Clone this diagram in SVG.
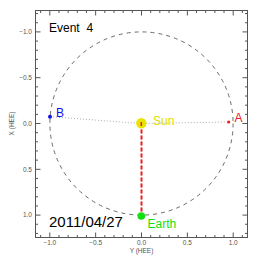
<svg xmlns="http://www.w3.org/2000/svg" width="258" height="258" viewBox="0 0 258 258">
<style>
.ax{fill:none;stroke:#555;stroke-width:1}
.tl{font-family:"Liberation Sans",Arial,sans-serif;font-size:6.5px;fill:#555}
.lab{font-family:"Liberation Sans",Arial,sans-serif;font-size:12px}
</style>
<rect width="258" height="258" fill="#fff"/>
<g id="axes">
<rect class="ax" x="35.5" y="10.5" width="212" height="227"/>
<path class="ax" d="M40.63 237.5v-2.5M58.97 237.5v-2.5M68.14 237.5v-2.5M77.31 237.5v-2.5M86.48 237.5v-2.5M104.82 237.5v-2.5M113.99 237.5v-2.5M123.16 237.5v-2.5M132.33 237.5v-2.5M150.67 237.5v-2.5M159.84 237.5v-2.5M169.01 237.5v-2.5M178.18 237.5v-2.5M196.52 237.5v-2.5M205.69 237.5v-2.5M214.86 237.5v-2.5M224.03 237.5v-2.5M242.37 237.5v-2.5
M40.63 10.5v2.5M58.97 10.5v2.5M68.14 10.5v2.5M77.31 10.5v2.5M86.48 10.5v2.5M104.82 10.5v2.5M113.99 10.5v2.5M123.16 10.5v2.5M132.33 10.5v2.5M150.67 10.5v2.5M159.84 10.5v2.5M169.01 10.5v2.5M178.18 10.5v2.5M196.52 10.5v2.5M205.69 10.5v2.5M214.86 10.5v2.5M224.03 10.5v2.5M242.37 10.5v2.5
M49.8 237.5v-5M95.65 237.5v-5M141.5 237.5v-5M187.35 237.5v-5M233.2 237.5v-5
M49.8 10.5v5M95.65 10.5v5M141.5 10.5v5M187.35 10.5v5M233.2 10.5v5
M35.5 13.58h2.5M35.5 22.74h2.5M35.5 41.06h2.5M35.5 50.22h2.5M35.5 59.38h2.5M35.5 68.54h2.5M35.5 86.86h2.5M35.5 96.02h2.5M35.5 105.18h2.5M35.5 114.34h2.5M35.5 132.66h2.5M35.5 141.82h2.5M35.5 150.98h2.5M35.5 160.14h2.5M35.5 178.46h2.5M35.5 187.62h2.5M35.5 196.78h2.5M35.5 205.94h2.5M35.5 224.26h2.5M35.5 233.42h2.5
M247.5 13.58h-2.5M247.5 22.74h-2.5M247.5 41.06h-2.5M247.5 50.22h-2.5M247.5 59.38h-2.5M247.5 68.54h-2.5M247.5 86.86h-2.5M247.5 96.02h-2.5M247.5 105.18h-2.5M247.5 114.34h-2.5M247.5 132.66h-2.5M247.5 141.82h-2.5M247.5 150.98h-2.5M247.5 160.14h-2.5M247.5 178.46h-2.5M247.5 187.62h-2.5M247.5 196.78h-2.5M247.5 205.94h-2.5M247.5 224.26h-2.5M247.5 233.42h-2.5
M35.5 31.9h5M35.5 77.7h5M35.5 123.5h5M35.5 169.3h5M35.5 215.1h5
M247.5 31.9h-5M247.5 77.7h-5M247.5 123.5h-5M247.5 169.3h-5M247.5 215.1h-5"/>
<g class="tl" text-anchor="end">
<text x="32" y="34">−1.0</text>
<text x="32" y="80">−0.5</text>
<text x="32" y="125.8">0.0</text>
<text x="32" y="171.6">0.5</text>
<text x="32" y="217.4">1.0</text>
</g>
<g class="tl" text-anchor="middle">
<text x="49.8" y="245">−1.0</text>
<text x="95.65" y="245">−0.5</text>
<text x="141.5" y="245">0.0</text>
<text x="187.35" y="245">0.5</text>
<text x="233.2" y="245">1.0</text>
<text x="141.5" y="252.5">Y (HEE)</text>
<text transform="translate(14 123.5) rotate(-90)">X (HEE)</text>
</g>
</g>
<circle cx="141.5" cy="123.5" r="91.6" fill="none" stroke="#444" stroke-width="0.8" stroke-dasharray="4 4"/>
<g id="connectors">
<path d="M50 116.7L141.5 123.5L228.7 122" fill="none" stroke="#aaa" stroke-width="1" stroke-dasharray="1 2"/>
<path d="M141.5 123.5V213" fill="none" stroke="#aaa" stroke-width="1" stroke-dasharray="1 2"/>
<path d="M141.5 123.5V213" fill="none" stroke="#e82020" stroke-width="2" stroke-dasharray="4 2"/>
</g>
<g id="sun">
<circle cx="141.3" cy="123.2" r="5.2" fill="#e6e600"/>
<rect x="140.5" y="122" width="1.6" height="4" fill="#e82020"/>
<text class="lab" x="153" y="124.7" fill="#e0e000">Sun</text>
</g>
<g id="earth">
<circle cx="141.3" cy="216" r="3.8" fill="#10e010"/>
<text class="lab" x="147.5" y="228" fill="#10e010">Earth</text>
</g>
<g id="stereoA">
<circle cx="228.7" cy="122" r="1.6" fill="#e82020"/>
<text class="lab" x="234.5" y="121.8" fill="#e82020">A</text>
</g>
<g id="stereoB">
<circle cx="50" cy="116.7" r="2" fill="#1010e8"/>
<text class="lab" x="56" y="117" fill="#1010e8">B</text>
</g>
<text class="lab" x="49" y="32.3" fill="#000">Event<tspan dx="6.7">4</tspan></text>
<text class="lab" x="49" y="227.3" fill="#000" style="font-size:15px">2011/04/27</text>
</svg>
